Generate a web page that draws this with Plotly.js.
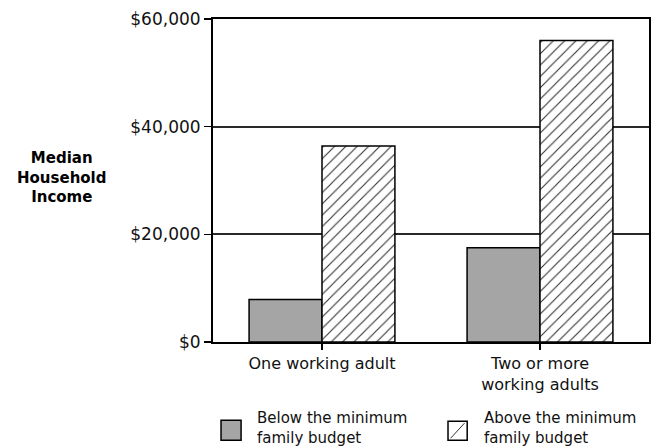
<!DOCTYPE html>
<html>
<head>
<meta charset="utf-8">
<script src="https://cdn.plot.ly/plotly-3.0.1.min.js"></script>
<style>html,body{margin:0;padding:0;background:#fff;}#chart{width:652px;height:447px;}</style>
</head>
<body>
<div id="chart"></div>
<script>
const categories = ['One working adult', 'Two or more<br>working adults'];
const belowValues = [7900, 17500];
const aboveValues = [36400, 56000];
const seriesNames = ['Below the minimum<br>family budget', 'Above the minimum<br>family budget'];
const yTickValues = [0, 20000, 40000, 60000];
const yTickLabels = ['$0', '$20,000', '$40,000', '$60,000'];
const yTitle = '<b>Median<br>Household<br>Income</b>';

const FONT = 'DejaVu Sans, sans-serif';

const traces = [
  {
    type: 'bar', x: categories, y: belowValues, name: seriesNames[0],
    marker: {color: '#a5a5a5', line: {color: '#000', width: 1.5}},
    showlegend: false, hoverinfo: 'skip'
  },
  {
    type: 'bar', x: categories, y: aboveValues, name: seriesNames[1],
    marker: {color: '#ffffff', line: {color: '#000', width: 1.5},
      pattern: {shape: '/', size: 8, solidity: 0.14, fgcolor: '#333', bgcolor: '#ffffff', fillmode: 'replace'}},
    showlegend: false, hoverinfo: 'skip'
  }
];

const shapes = [
  {type: 'rect', xref: 'paper', yref: 'paper', x0: 0.0184, x1: 0.0644, y0: -0.304, y1: -0.242,
   fillcolor: '#a5a5a5', line: {color: '#000', width: 1.5}},
  {type: 'rect', xref: 'paper', yref: 'paper', x0: 0.539, x1: 0.583, y0: -0.304, y1: -0.245,
   fillcolor: '#fff', line: {color: '#000', width: 1.5}},
  {type: 'line', xref: 'paper', yref: 'paper', x0: 0.545, x1: 0.577, y0: -0.298, y1: -0.251,
   line: {color: '#333', width: 1}}
];

const annotations = [
  {xref: 'paper', yref: 'paper', x: -0.347, y: 0.509, text: yTitle, showarrow: false,
   xanchor: 'center', yanchor: 'middle', align: 'center', font: {family: FONT, size: 15, color: '#000'}},
  {xref: 'paper', yref: 'paper', x: 0.096, y: -0.267, text: seriesNames[0], showarrow: false,
   xanchor: 'left', yanchor: 'middle', align: 'left', font: {family: FONT, size: 15, color: '#111'}},
  {xref: 'paper', yref: 'paper', x: 0.616, y: -0.267, text: seriesNames[1], showarrow: false,
   xanchor: 'left', yanchor: 'middle', align: 'left', font: {family: FONT, size: 15, color: '#111'}}
];

const layout = {
  width: 652, height: 447,
  margin: {l: 213, r: 3, t: 19, b: 105},
  paper_bgcolor: '#fff', plot_bgcolor: '#fff',
  barmode: 'group', bargap: 0.331, bargroupgap: 0,
  font: {family: FONT, size: 16, color: '#111'},
  xaxis: {
    type: 'category', showgrid: false, zeroline: false,
    showline: true, mirror: true, linecolor: '#000', linewidth: 2,
    ticks: 'outside', ticklen: 6, tickwidth: 1.5, tickcolor: '#000',
    tickfont: {family: FONT, size: 16, color: '#111'}
  },
  yaxis: {
    range: [0, 60000], tickvals: yTickValues, ticktext: yTickLabels,
    showgrid: true, gridcolor: '#2a2a2a', gridwidth: 2, zeroline: false,
    showline: true, mirror: true, linecolor: '#000', linewidth: 2,
    ticks: 'outside', ticklen: 7, tickwidth: 1.5, tickcolor: '#000',
    tickfont: {family: FONT, size: 17, color: '#111'}
  },
  shapes: shapes,
  annotations: annotations,
  showlegend: false
};

Plotly.newPlot('chart', traces, layout, {staticPlot: true, displayModeBar: false});
</script>
</body>
</html>
